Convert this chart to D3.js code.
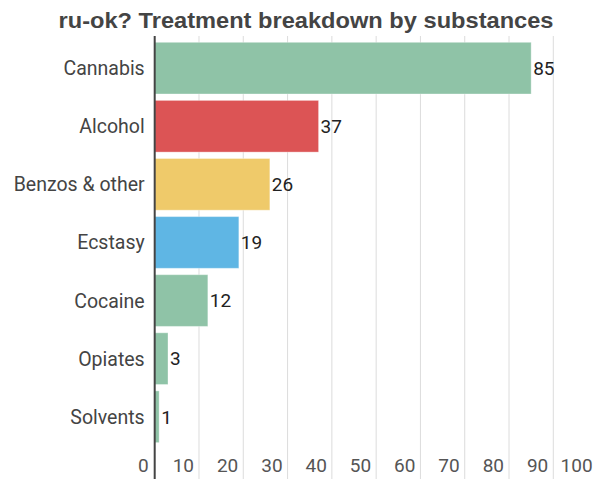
<!DOCTYPE html>
<html>
<head>
<meta charset="utf-8">
<script src="https://cdn.jsdelivr.net/npm/d3@7"></script>
<style>
  html, body { margin: 0; padding: 0; background: #fff; }
  svg { display: block; font-family: Roboto, "Noto Sans", sans-serif; }
</style>
</head>
<body>
<svg id="chart" width="597" height="479"></svg>
<script>
const title = "ru-ok? Treatment breakdown by substances";
const categories = ["Cannabis", "Alcohol", "Benzos & other", "Ecstasy", "Cocaine", "Opiates", "Solvents"];
const values = [85, 37, 26, 19, 12, 3, 1];
const barColors = ["#8fc3a7", "#dc5455", "#efca6a", "#5fb6e4", "#8fc3a7", "#8fc3a7", "#8fc3a7"];
const ticks = [0, 10, 20, 30, 40, 50, 60, 70, 80, 90, 100];

const svg = d3.select("#chart");

const x = d3.scaleLinear().domain([0, 100]).range([154.7, 597.6]);
const y = d3.scaleBand().domain(categories).range([39.1, 445.8])
  .paddingInner(0.11).paddingOuter(0.055);

// title
svg.append("text")
  .attr("x", 306).attr("y", 28)
  .attr("text-anchor", "middle")
  .attr("font-family", "'Liberation Sans', Arial, sans-serif")
  .attr("font-size", 21.5).attr("font-weight", "bold")
  .attr("fill", "#444")
  .attr("textLength", 495)
  .attr("lengthAdjust", "spacingAndGlyphs")
  .text(title);

// gridlines
svg.append("g").selectAll("line").data(ticks.slice(1)).join("line")
  .attr("x1", d => x(d)).attr("x2", d => x(d))
  .attr("y1", 36).attr("y2", 479)
  .attr("stroke", "#dcdcdc").attr("stroke-width", 1);

// bars
svg.append("g").selectAll("rect").data(categories).join("rect")
  .attr("x", x(0))
  .attr("y", d => y(d))
  .attr("width", (d, i) => x(values[i]) - x(0))
  .attr("height", y.bandwidth())
  .attr("fill", (d, i) => barColors[i])
  .attr("stroke", "rgba(255,255,255,0.35)")
  .attr("stroke-width", 1);

// value labels
svg.append("g").selectAll("text").data(categories).join("text")
  .attr("x", (d, i) => x(values[i]) + 2)
  .attr("y", d => y(d) + y.bandwidth() / 2)
  .attr("dy", "0.36em")
  .attr("font-size", 19)
  .attr("fill", "#222")
  .text((d, i) => values[i]);

// category labels
svg.append("g").selectAll("text").data(categories).join("text")
  .attr("x", x(0) - 10)
  .attr("y", d => y(d) + y.bandwidth() / 2)
  .attr("dy", "0.36em")
  .attr("text-anchor", "end")
  .attr("font-size", 19.5)
  .attr("fill", "#444")
  .text(d => d);

// x tick labels
svg.append("g").selectAll("text").data(ticks).join("text")
  .attr("x", d => x(d) - (d === 0 ? 6 : 5))
  .attr("y", 472)
  .attr("text-anchor", "end")
  .attr("font-size", 19)
  .attr("fill", "#555")
  .text(d => d);

// zero axis line
svg.append("line")
  .attr("x1", x(0)).attr("x2", x(0))
  .attr("y1", 36).attr("y2", 479)
  .attr("stroke", "#444").attr("stroke-width", 2);
</script>
</body>
</html>
